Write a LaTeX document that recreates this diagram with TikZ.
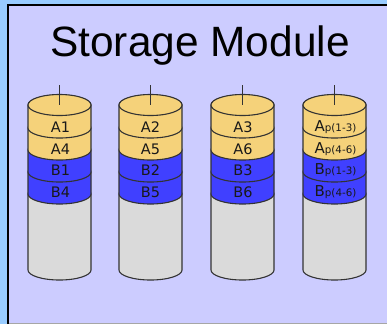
\documentclass[tikz,border=0pt]{standalone}
\usepackage{fontspec}
\setmainfont{Liberation Sans}
\newfontfamily\dv{DejaVu Sans}
\definecolor{outerblue}{HTML}{99CCFF}
\definecolor{panel}{HTML}{CCCCFF}
\definecolor{sand}{HTML}{F5D27A}
\definecolor{royal}{HTML}{4040FF}
\definecolor{disk}{HTML}{DADADA}
\definecolor{rim}{HTML}{333333}
\tikzset{
  x=1pt,y=-1pt,
  cyl/.style={draw=rim,line width=1.1pt},
  lab/.style={font=\dv\fontsize{14.5}{15}\selectfont,text=black!90,inner sep=0pt,anchor=center},
  sub/.style={font=\dv\fontsize{15}{15}\selectfont,text=black!90,inner sep=0pt,anchor=center}
}
\newcommand{\band}[4]{% cx, top y (centre of upper ellipse), bottom y, colour
  \path[cyl,fill=#4] (#1-31.5,#2) -- (#1-31.5,#3) arc[start angle=180,end angle=0,x radius=31.5,y radius=10] -- (#1+31.5,#2) arc[start angle=0,end angle=-180,x radius=31.5,y radius=10] -- cycle;
}
\newcommand{\disc}[1]{%
  \band{#1}{194}{270}{disk}
  \band{#1}{172}{194}{royal}
  \band{#1}{150}{172}{royal}
  \band{#1}{128}{150}{sand}
  \band{#1}{105}{128}{sand}
  \path[cyl,fill=sand] (#1,105) ellipse[x radius=31.5,y radius=10.5];
  \draw[rim,line width=1pt] (#1-.5,85) -- (#1-.5,105);
}
\begin{document}
\begin{tikzpicture}
\useasboundingbox (0,0) rectangle (387,324);
\fill[outerblue] (0,0) rectangle (387,324);
\fill[panel] (8,5) rectangle (387,323);
\draw[black!35,line width=0.6pt] (9,323) -- (387,323);
\draw[black,line width=2pt] (8,324) -- (8,5) -- (387,5);
\node[font=\fontsize{42.4}{44}\selectfont,inner sep=0pt,anchor=base] (title) at (200,56) {Storage Module};
\disc{59.5}\disc{150.5}\disc{242.5}\disc{334.5}
\node[lab] (a1) at (60.5,127) {A1};
\node[lab] (a4) at (60.5,149) {A4};
\node[lab] (b1) at (60.5,170) {B1};
\node[lab] (b4) at (60.5,192) {B4};
\node[lab] (a2) at (150.5,127) {A2};
\node[lab] (a5) at (150.5,149) {A5};
\node[lab] (b2) at (150.5,170) {B2};
\node[lab] (b5) at (150.5,192) {B5};
\node[lab] (a3) at (243,127) {A3};
\node[lab] (a6) at (243,149) {A6};
\node[lab] (b3) at (243,170) {B3};
\node[lab] (b6) at (243,192) {B6};
\newcommand{\ps}[2]{#1{\fontsize{10.3}{10}\selectfont p(#2)}}
\node[sub] (ap1) at (335.5,127) {\ps{A}{1-3}};
\node[sub] (ap2) at (335.5,149) {\ps{A}{4-6}};
\node[sub] (bp1) at (335.5,170) {\ps{B}{1-3}};
\node[sub] (bp2) at (335.5,192) {\ps{B}{4-6}};
\end{tikzpicture}
\end{document}
